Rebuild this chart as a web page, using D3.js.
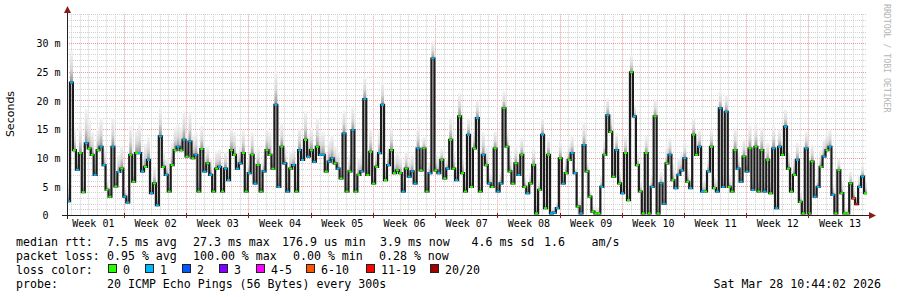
<!DOCTYPE html>
<html><head><meta charset="utf-8">
<script src="https://cdn.jsdelivr.net/npm/d3@7"></script>
<style>
body{margin:0;background:#fff}
text{font-family:"DejaVu Sans Mono",monospace;fill:#000}
</style>
</head><body>
<svg id="c" width="897" height="297"></svg>
<script>
// ---------- data ----------
const weekLabels = ["Week 01","Week 02","Week 03","Week 04","Week 05","Week 06","Week 07","Week 08","Week 09","Week 10","Week 11","Week 12","Week 13"];
const yTicks = [0,5,10,15,20,25,30];
const totalDays = 90;
const pointsPerDay = 3;
// median rtt (ms), one value per 8 hours
const median = [
 2.4,23.1,11.3,7.9,10.8,4.0,12.5,11.6,10.5,7.0, 11.3,11.9,8.7,4.4,3.2,11.9,5.0,7.5,8.1,3.2,
 2.2,10.5,5.8,10.8,10.8,7.6,8.4,9.6,3.8,5.5, 1.7,13.7,8.4,7.0,4.1,8.7,11.3,11.9,11.3,13.1,
 10.2,12.8,9.9,10.5,4.1,11.5,7.6,9.0,7.0,4.1, 8.1,8.4,4.1,8.1,6.1,11.3,10.5,8.1,9.0,10.8,
 4.1,7.3,10.5,5.5,8.7,4.1,7.6,11.3,10.5,8.1, 19.2,4.9,11.9,9.0,4.1,8.1,8.7,4.1,11.3,9.6,
 13.1,10.2,11.3,9.3,11.9,10.5,10.5,7.6,9.3,9.9, 9.0,8.1,6.4,14.2,4.1,7.6,14.8,4.1,7.0,7.6,
 20.2,7.0,11.0,5.5,8.4,10.8,19.2,6.1,8.7,11.3, 7.3,7.8,7.3,4.1,8.1,6.7,7.6,5.5,11.6,7.8,
 11.6,4.1,7.3,27.3,7.8,7.3,9.6,6.4,8.1,13.1, 8.1,6.1,17.2,7.3,4.1,14.0,4.9,11.6,16.9,4.1,
 10.5,8.7,5.5,4.9,11.6,4.1,5.5,18.6,11.9,7.6, 5.5,9.0,7.0,10.5,4.9,3.8,5.5,8.7,0.3,4.4,
 14.0,1.2,10.5,0.3,0.4,1.2,9.9,5.5,7.3,9.6, 10.8,7.3,1.5,0.3,12.2,7.6,3.2,0.6,0.3,0.3,
 4.9,10.5,17.4,14.5,6.7,11.3,5.5,3.8,10.8,2.6, 24.9,17.2,8.7,4.1,0.3,10.8,0.3,4.9,17.2,0.3,
 5.5,2.0,9.0,10.5,6.1,4.7,7.0,7.8,9.9,5.8, 4.7,14.0,10.5,11.9,4.1,4.1,7.6,11.9,4.7,4.1,
 18.6,4.9,18.0,4.9,4.1,11.3,8.1,5.8,10.2,7.6, 11.6,4.4,11.9,4.1,11.3,4.1,9.6,3.8,11.6,1.2,
 11.9,10.5,15.4,8.1,4.1,7.0,9.6,2.3,0.3,11.6, 0.3,9.3,3.2,4.9,8.4,10.2,11.3,11.9,3.5,0.3,
 7.8,3.8,0.3,0.3,5.5,2.9,1.9,4.9,6.7,3.8
];
// smoke spread above the median (ms)
const smokeSpread = [
 3,5.5,4,3,5,2,6,5,4,3, 4,5,3,2,2,5,2,3,4,2, 2,5,3,4,5,3,4,4,2,3, 2,5,3,3,2,4,4,4,4,5, 4,5,4,4,2,
 4,3,3,3,2,3,3,2,3,2, 4,4,3,3,4,2,3,4,2,3, 2,3,4,4,3,6,2,4,3,2, 3,3,2,4,3,5,4,4,3,5, 4,4,3,4,
 4,3,3,2,4,2,3,4,2,3, 3,4,3,4,2,3,4,4,2,3, 4,3,3,3,2,3,3,3,2,4, 3,2,3,2,3,3,3,2,3,2, 4,3,2,4,3,
 2,3,2,3,3,2,4,3,2,2, 3,2,2,3,3,3,2,3,3,3, 2,2,2,3,1.5,2,3,1,3,1, 1,1,3,2,3,3,3,1,1,3, 4,2,1,1,1,
 1,2,3,3,3,2,3,2,2,3, 2,3,2,2,2,1,3,1,2,3, 1,2,1,3,3,3,2,3,3,3, 2,2,3,3,3,2,2,2,3,2, 2,3,2,3,2,2,
 4,3,2,3,3,4,2,4,2,4, 2,3,2,4,1,3,3,3,3,2, 3,3,2,1,3,1,3,2,2,3, 3,3,3,2,1,2,2,1,1,2, 2,1,2,2,2
];
// lost pings (of 20) per value
const loss = [
 1,1,0,1,0,0,1,0,0,1, 0,1,1,0,0,1,0,1,0,1, 1,0,0,0,1,1,0,1,1,0, 1,1,0,1,0,0,0,1,0,1, 0,1,0,1,0,
 0,1,0,1,0,0,1,0,1,1, 0,0,1,1,0,0,1,0,1,0, 0,1,0,0,0,1,1,0,1,1, 0,1,0,1,1,0,1,0,1,0, 1,1,0,1,
 1,0,1,0,1,0,0,1,0,0, 1,1,0,0,0,0,1,1,0,1, 0,0,0,0,1,0,1,1,1,1, 0,0,0,1,1,0,1,0,0,1, 0,0,1,0,0,
 0,1,0,0,1,0,1,0,1,0, 0,1,1,0,0,0,0,0,1,0, 0,1,0,0,0,0,1,0,0,1, 1,1,0,1,0,0,1,1,0,1, 1,0,0,0,0,
 0,1,0,1,0,0,1,0,1,0, 0,0,1,0,0,0,0,0,1,0, 0,1,1,0,1,0,1,1,1,1, 0,1,0,0,1,1,0,1,0,0, 1,1,1,1,0,0,
 0,1,1,0,1,0,1,0,0,0, 1,0,0,1,1,1,0,1,0,0, 0,1,0,0,1,0,0,1,1,0, 1,0,1,1,0,0,0,0,0,0, 7,15,1,1,0
];
const lossLabels = ["0","1","2","3","4-5","6-10","11-19","20/20"];
const lossColors = ["#26ff00","#00b8ff","#0059ff","#7e00ff","#ff00ff","#ff5500","#ff0000","#a10000"];
const lossMax = [0,1,2,3,5,10,19,20];
const statsRows = [
  ["median rtt:", "7.5 ms avg", "27.3 ms max", "176.9 us min", "3.9 ms now", "4.6 ms sd", "1.6", "am/s"],
  ["packet loss:", "0.95 % avg", "100.00 % max", "0.00 % min", "0.28 % now"]
];
const probeLabel = "probe:";
const probeText = "20 ICMP Echo Pings (56 Bytes) every 300s";
const dateText = "Sat Mar 28 10:44:02 2026";
const firstWeekStart = 6.41; // days from the left edge to the first week boundary

// ---------- layout ----------
const svg = d3.select("#c");
const X0 = 67, X1 = 867, Y0 = 215;
const x = d3.scaleLinear().domain([0, totalDays]).range([X0, X1]);
const y = d3.scaleLinear().domain([0, 30]).range([Y0, 43]);
const yTop = 35;
const crisp = v => Math.round(v) + 0.5;

// grid
const grid = svg.append("g");
for (let k = 0; k < totalDays; k++) {
  const d = firstWeekStart - 6 + k;
  if (d <= 0 || d >= totalDays) continue;
  const major = ((k - 6) % 7 === 0);
  grid.append("line")
    .attr("x1", crisp(x(d))).attr("x2", crisp(x(d)))
    .attr("y1", y(yTop)).attr("y2", Y0)
    .attr("stroke", major ? "#e89a9a" : "#d0d0d0")
    .attr("stroke-dasharray", "1,1");
}
for (let v = 1; v <= yTop; v++) {
  const major = v % 5 === 0 && v <= 30;
  grid.append("line")
    .attr("x1", X0).attr("x2", X1)
    .attr("y1", crisp(y(v))).attr("y2", crisp(y(v)))
    .attr("stroke", major ? "#e89a9a" : "#d0d0d0")
    .attr("stroke-dasharray", "1,1");
}

// smoke
const defs = svg.append("defs");
const grad = defs.append("linearGradient").attr("id", "smoke")
  .attr("x1", 0).attr("y1", 0).attr("x2", 0).attr("y2", 1);
grad.append("stop").attr("offset", "0%").attr("stop-color", "#f4f4f4");
grad.append("stop").attr("offset", "55%").attr("stop-color", "#d6d6d6");
grad.append("stop").attr("offset", "100%").attr("stop-color", "#8a8a8a");

const pts = median.map((v, i) => ({t: i / pointsPerDay, v, s: smokeSpread[i], l: loss[i]}));
const stepW = x(1 / pointsPerDay) - x(0);

svg.append("g").selectAll("rect").data(pts).join("rect")
  .attr("x", d => x(d.t)).attr("width", stepW)
  .attr("y", d => y(d.v + d.s)).attr("height", d => y(d.v) - y(d.v + d.s) + 1)
  .attr("fill", "url(#smoke)");

// median line (dark steps)
const linePts = pts.concat([{t: totalDays, v: median[median.length - 1]}]);
const line = d3.line().x(d => x(d.t)).y(d => y(d.v)).curve(d3.curveStepAfter);
svg.append("path").attr("d", line(linePts))
  .attr("fill", "none").attr("stroke", "#1c1c1c").attr("stroke-width", 2.2);

// loss-coloured median tips
const lossIdx = l => lossMax.findIndex(m => l <= m);
svg.append("g").selectAll("rect").data(pts).join("rect")
  .attr("x", d => x(d.t)).attr("width", stepW)
  .attr("y", d => y(d.v) - 1).attr("height", 2)
  .attr("fill", d => lossColors[lossIdx(d.l)]);

// axes lines + arrows
svg.append("line").attr("x1", 62).attr("x2", 870).attr("y1", Y0 + 0.5).attr("y2", Y0 + 0.5)
  .attr("stroke", "#222").attr("stroke-width", 1);
svg.append("line").attr("x1", X0 + 0.5).attr("x2", X0 + 0.5).attr("y1", 219).attr("y2", 11)
  .attr("stroke", "#222").attr("stroke-width", 1);
svg.append("path").attr("d", "M64,13 L71,13 L67.5,6 Z").attr("fill", "#8b1a1a");
svg.append("path").attr("d", "M869,212 L869,219 L876,215.5 Z").attr("fill", "#8b1a1a");
// ticks at week boundaries
for (let k = 0; k < 13; k++) {
  const d = firstWeekStart + 7 * k;
  if (d >= totalDays) continue;
  svg.append("line").attr("x1", crisp(x(d))).attr("x2", crisp(x(d)))
    .attr("y1", Y0 - 2).attr("y2", Y0 + 3).attr("stroke", "#8b1a1a");
}

// y axis labels
const yAxis = d3.axisLeft(y).tickValues(yTicks).tickSize(0).tickPadding(0)
  .tickFormat(v => v === 0 ? "0" : v + " m");
const ya = svg.append("g").attr("transform", "translate(60.5,0.5)").call(yAxis);
ya.select(".domain").remove();
ya.selectAll("text").style("font-family", "DejaVu Sans Mono").style("font-size", "10px")
  .attr("dx", v => v === 0 ? -12 : 0).attr("fill", "#000");

// x axis labels
const weekCenters = weekLabels.map((_, k) => firstWeekStart - 3.5 + 7 * k);
const xAxis = d3.axisBottom(x).tickValues(weekCenters).tickSize(0).tickPadding(0)
  .tickFormat((d, i) => weekLabels[i]);
const xa = svg.append("g").attr("transform", "translate(0,220)").call(xAxis);
xa.select(".domain").remove();
xa.selectAll("text").style("font-family", "DejaVu Sans Mono").style("font-size", "10px").attr("fill", "#000");

// y title
svg.append("text").attr("transform", "translate(14,114) rotate(-90)")
  .attr("text-anchor", "middle").style("font-family", "DejaVu Sans").style("font-size", "11px")
  .text("Seconds");

// watermark
svg.append("text").attr("transform", "translate(884,4) rotate(90)")
  .style("font-size", "8.2px").style("fill", "#b4b4b4")
  .text("RRDTOOL / TOBI OETIKER");

// legend
const fs = "11.6px";
const row1X = [16, 107, 193, 282, 380, 471.5, 544, 591.5];
const row2X = [16, 107, 193, 293, 379];
const rows = [[row1X, 245.5], [row2X, 259.5]];
statsRows.forEach((r, ri) => {
  r.forEach((t, j) => {
    svg.append("text").attr("x", rows[ri][0][j]).attr("y", rows[ri][1])
      .style("font-size", fs).text(t);
  });
});
svg.append("text").attr("x", 16).attr("y", 273.5).style("font-size", fs).text("loss color:");
const boxX = [108, 145, 182, 219, 256, 306, 366, 430];
lossLabels.forEach((lab, i) => {
  svg.append("rect").attr("x", boxX[i] + 0.5).attr("y", 264.5).attr("width", 8).attr("height", 8)
    .attr("fill", lossColors[i]).attr("stroke", "#222").attr("stroke-width", 1);
  svg.append("text").attr("x", boxX[i] + 15).attr("y", 273.5).style("font-size", fs).text(lab);
});
svg.append("text").attr("x", 16).attr("y", 287.5).style("font-size", fs).text(probeLabel);
svg.append("text").attr("x", 107).attr("y", 287.5).style("font-size", fs).text(probeText);
svg.append("text").attr("x", 881).attr("y", 287.5).attr("text-anchor", "end").style("font-size", fs).text(dateText);
</script>
</body></html>
